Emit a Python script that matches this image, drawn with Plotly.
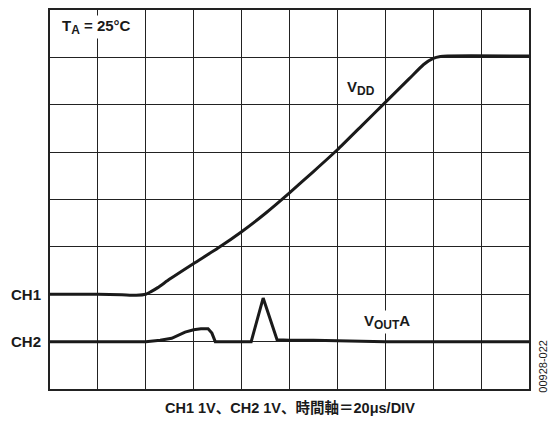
import plotly.graph_objects as go

# Data in divisions (x: time div, y: vertical div from bottom)
vdd_x = [0, 1.0, 1.5, 1.8, 2.0, 2.1, 2.25, 2.5, 3.0, 3.5, 4.0, 4.5, 5.0, 5.5, 6.0, 6.5, 7.0, 7.5, 7.8, 8.0, 8.15, 8.3, 10]
vdd_y = [2.0, 2.0, 1.99, 1.98, 2.0, 2.05, 2.14, 2.32, 2.65, 2.97, 3.32, 3.71, 4.14, 4.59, 5.05, 5.55, 6.05, 6.55, 6.85, 6.98, 7.02, 7.03, 7.03]

vout_x = [0, 1.5, 2.0, 2.3, 2.54, 2.82, 3.0, 3.15, 3.3, 3.38, 3.42, 3.45, 4.2, 4.45, 4.74, 5.0, 5.5, 6.0, 6.5, 7.0, 10]
vout_y = [1.0, 1.0, 1.0, 1.03, 1.07, 1.2, 1.25, 1.27, 1.27, 1.18, 1.06, 1.0, 1.0, 1.92, 1.04, 1.03, 1.03, 1.02, 1.01, 1.0, 1.0]

channel_labels = ["CH1", "CH2"]
channel_levels = [2.0, 1.0]

fig = go.Figure()
fig.add_trace(go.Scatter(x=vdd_x, y=vdd_y, mode="lines", line=dict(color="#1a1a1a", width=3, shape="spline", smoothing=0.5), hoverinfo="skip"))
fig.add_trace(go.Scatter(x=vout_x, y=vout_y, mode="lines", line=dict(color="#1a1a1a", width=3), hoverinfo="skip"))

font_main = "Liberation Sans, Arial, sans-serif"
ink = "#1a1a1a"
axis_common = dict(showgrid=True, gridcolor="#222222", gridwidth=1.3, zeroline=False,
                   showline=True, linecolor="#222222", linewidth=2, mirror=True,
                   showticklabels=False, ticks="", dtick=1)
fig.update_xaxes(range=[0, 10], **axis_common)
fig.update_yaxes(range=[0, 8], **axis_common)

def sub(t, size=12):
    return '<sub><span style="font-size:%dpx">%s</span></sub>' % (size, t)

ann = [
    dict(x=0.02, y=0.955, text="<b>T" + sub("<b>A</b>") + " = 25°C</b>", xanchor="left"),
    dict(x=0.649, y=0.795, text="<b>V" + sub("<b>DD</b>") + "</b>", xanchor="center"),
    dict(x=0.704, y=0.177, text="<b>V" + sub("<b>OUT</b>") + "A</b>", xanchor="center"),
]
for a in ann:
    fig.add_annotation(xref="paper", yref="paper", showarrow=False, yanchor="middle",
                       bgcolor="white", borderpad=1,
                       font=dict(family=font_main, size=15, color=ink), **a)

for lab, lev in zip(channel_labels, channel_levels):
    fig.add_annotation(x=-0.015, y=lev / 8, xref="paper", yref="paper", text="<b>" + lab + "</b>", showarrow=False,
                       xanchor="right", yanchor="middle", font=dict(family=font_main, size=15, color=ink))

fig.add_annotation(x=0.5, y=-0.05, xref="paper", yref="paper", text="<b>CH1 1V、CH2 1V、時間軸＝20μs/DIV</b>",
                   showarrow=False, xanchor="center", yanchor="middle",
                   font=dict(family="Liberation Sans, Noto Sans CJK JP, sans-serif", size=14.5, color=ink))
fig.add_annotation(x=1.03, y=0.06, xref="paper", yref="paper", text="00928-022", textangle=-90,
                   showarrow=False, xanchor="center", yanchor="middle",
                   font=dict(family=font_main, size=11, color=ink))

fig.update_layout(width=553, height=421, margin=dict(l=50, r=24, t=8, b=32),
                  plot_bgcolor="white", paper_bgcolor="white", showlegend=False)
fig.write_html("out.html")
